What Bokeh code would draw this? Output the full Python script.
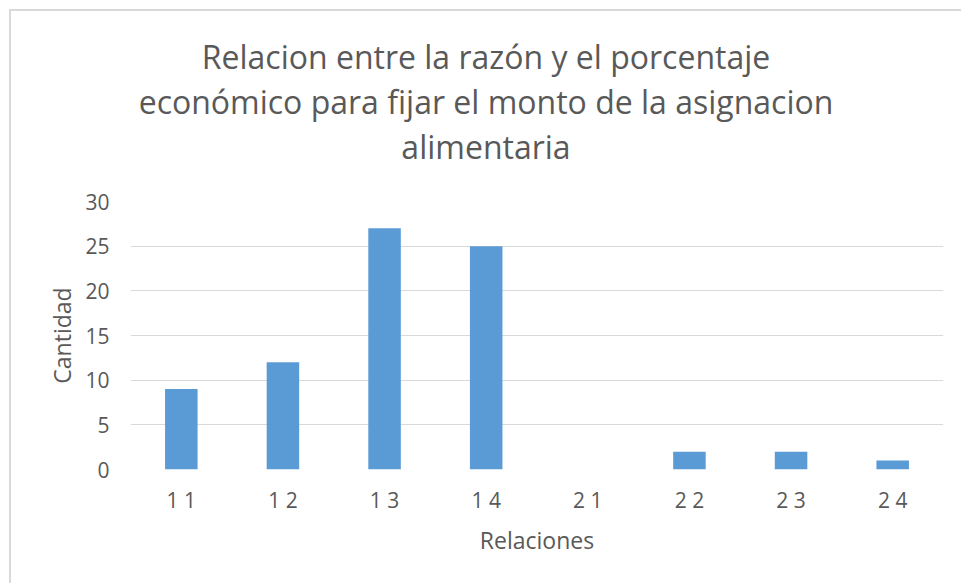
from bokeh.plotting import figure
from bokeh.models import Div, FactorRange, ColumnDataSource
from bokeh.layouts import column
from bokeh.embed import file_html
from bokeh.resources import INLINE

categories = ["1 1", "1 2", "1 3", "1 4", "2 1", "2 2", "2 3", "2 4"]
cantidad = [9, 12, 27, 25, 0, 2, 2, 1]
y_ticks = [0, 5, 10, 15, 20, 25, 30]
title_lines = ["Relacion entre la razón y el porcentaje",
               "económico para fijar el monto de la asignacion",
               "alimentaria"]

FONT = "Open Sans"
GRAY = "#595959"

source = ColumnDataSource(dict(cat=categories, val=cantidad))

title_div = Div(
    text=("<div style=\"display:block; width:942px; font-family:'Open Sans'; font-size:32px; "
          "color:#595959; line-height:45px; text-align:center; white-space:nowrap; "
          "padding-top:23px; padding-left:8px;\">"
          + "<br>".join(title_lines) + "</div>"),
    width=950, height=165, margin=0)

p = figure(width=950, height=407, x_range=FactorRange(*categories), y_range=(0, 30),
           output_backend="svg", toolbar_location=None,
           min_border_left=119, min_border_right=18, min_border_top=25, min_border_bottom=114)

p.vbar(x="cat", top="val", width=0.32, source=source, fill_color="#5B9BD5", line_color=None)

p.outline_line_color = None
p.xgrid.grid_line_color = None
p.ygrid.grid_line_color = "#d9d9d9"
p.ygrid.grid_line_width = 1
p.yaxis.ticker = y_ticks

for ax in (p.xaxis[0], p.yaxis[0]):
    ax.axis_line_color = None
    ax.major_tick_line_color = None
    ax.minor_tick_line_color = None
    ax.major_label_text_font = FONT
    ax.major_label_text_font_size = "21px"
    ax.major_label_text_color = GRAY
    ax.axis_label_text_font = FONT
    ax.axis_label_text_font_size = "23px"
    ax.axis_label_text_font_style = "normal"
    ax.axis_label_text_color = GRAY

p.xaxis.axis_label = "Relaciones"
p.yaxis.axis_label = "Cantidad"
p.yaxis.major_label_standoff = 15
p.xaxis.major_label_standoff = 10
p.yaxis.axis_label_standoff = 4
p.xaxis.axis_label_standoff = 7
p.x_range.range_padding = 0

layout = column(title_div, p, spacing=0)
layout.styles = {"border-top": "2px solid #d9d9d9", "border-left": "2px solid #d9d9d9",
                 "margin-left": "9px", "margin-top": "9px"}

open("out.html", "w").write(file_html(layout, INLINE))
